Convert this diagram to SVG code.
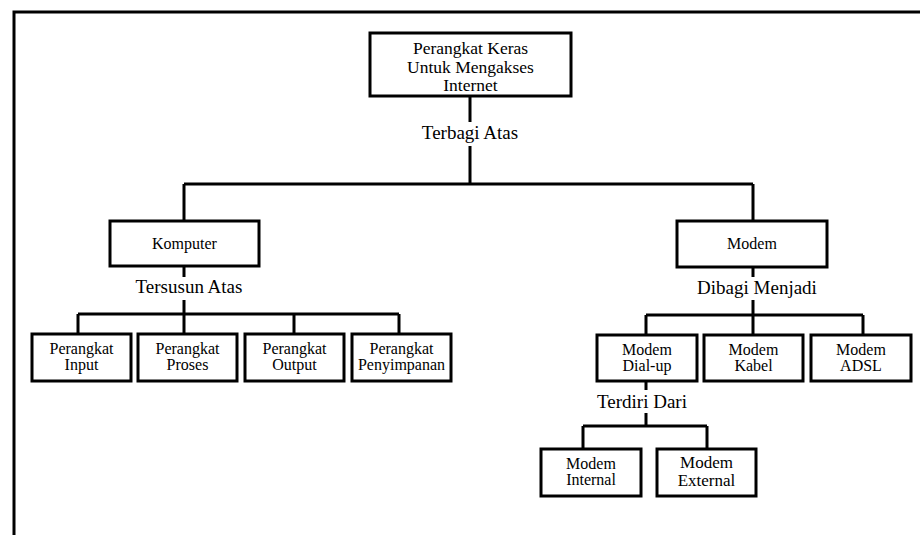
<svg xmlns="http://www.w3.org/2000/svg" width="920" height="535" viewBox="0 0 920 535">
<style>
.box{fill:#fff;stroke:#000;stroke-width:3}
.ln{fill:none;stroke:#000;stroke-width:3}
text{font-family:'Liberation Serif','DejaVu Serif','Times New Roman',serif;fill:#000;text-anchor:middle}
.t{font-size:16px}
.lbl{font-size:19px}
.big{font-size:17.5px}
.ext{font-size:17px}
</style>
<rect x="0" y="0" width="920" height="535" fill="#fff"/>
<path d="M14,535 V12 H920" fill="none" stroke="#000" stroke-width="3"/>
<g id="connectors">
<path class="ln" d="M470,96 V122 M470,146 V184 M184,184 H753 M184,184 V221 M753,184 V221"/>
<path class="ln" d="M184,266 V277 M184,300 V314 M78,314 H399 M78,314 V334 M184,314 V334 M294,314 V334 M399,314 V334"/>
<path class="ln" d="M753,267 V277 M753,300 V315 M646,315 H863 M646,315 V335 M753,315 V335 M863,315 V335"/>
<path class="ln" d="M646,381 V390 M646,413 V426 M583,426 H707 M583,426 V449 M707,426 V449"/>
</g>
<g id="lbl-terbagi"><text class="lbl" x="470" y="139">Terbagi Atas</text></g>
<g id="lbl-tersusun"><text class="lbl" x="189" y="293">Tersusun Atas</text></g>
<g id="lbl-dibagi"><text class="lbl" x="757" y="294">Dibagi Menjadi</text></g>
<g id="lbl-terdiri"><text class="lbl" x="642" y="408">Terdiri Dari</text></g>
<g id="root"><rect class="box" x="370" y="33" width="201" height="63"/>
<text class="big" x="470.5" y="54">Perangkat Keras</text>
<text class="big" x="470.5" y="72.5">Untuk Mengakses</text>
<text class="big" x="470.5" y="91">Internet</text></g>
<g id="komputer"><rect class="box" x="110" y="221" width="149" height="45"/><text class="t" x="184.5" y="249">Komputer</text></g>
<g id="modem"><rect class="box" x="677" y="221" width="150" height="46"/><text class="t" x="752" y="249">Modem</text></g>
<g id="p-input"><rect class="box" x="32" y="334" width="99" height="47"/><text class="t" x="81.5" y="354">Perangkat</text><text class="t" x="81.5" y="370">Input</text></g>
<g id="p-proses"><rect class="box" x="138" y="334" width="99" height="47"/><text class="t" x="187.5" y="354">Perangkat</text><text class="t" x="187.5" y="370">Proses</text></g>
<g id="p-output"><rect class="box" x="245" y="334" width="99" height="47"/><text class="t" x="294.5" y="354">Perangkat</text><text class="t" x="294.5" y="370">Output</text></g>
<g id="p-penyimpanan"><rect class="box" x="352" y="334" width="99" height="47"/><text class="t" x="401.5" y="354">Perangkat</text><text class="t" x="401.5" y="370">Penyimpanan</text></g>
<g id="m-dialup"><rect class="box" x="597" y="335" width="100" height="46"/><text class="t" x="647" y="355">Modem</text><text class="t" x="647" y="371">Dial-up</text></g>
<g id="m-kabel"><rect class="box" x="704" y="335" width="99" height="46"/><text class="t" x="753.5" y="355">Modem</text><text class="t" x="753.5" y="371">Kabel</text></g>
<g id="m-adsl"><rect class="box" x="811" y="335" width="100" height="46"/><text class="t" x="861" y="355">Modem</text><text class="t" x="861" y="371">ADSL</text></g>
<g id="m-internal"><rect class="box" x="541" y="449" width="100" height="47"/><text class="t" x="591" y="469">Modem</text><text class="t" x="591" y="485">Internal</text></g>
<g id="m-external"><rect class="box" x="657" y="449" width="99" height="47"/><text class="ext" x="706.5" y="468">Modem</text><text class="ext" x="706.5" y="486">External</text></g>
</svg>
